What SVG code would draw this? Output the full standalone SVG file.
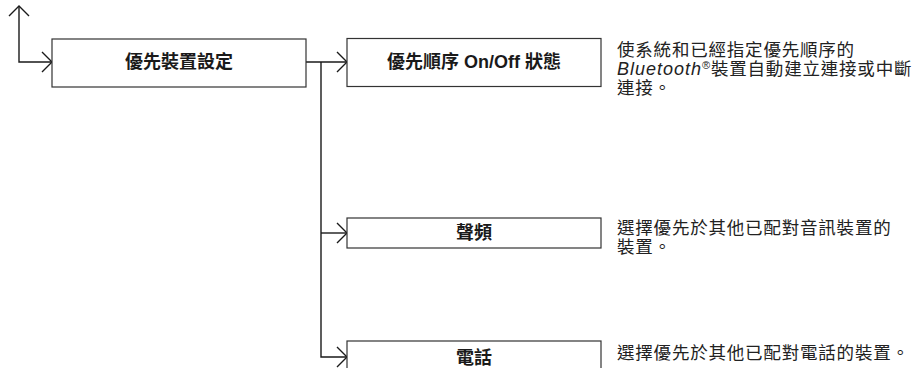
<svg xmlns="http://www.w3.org/2000/svg" width="912" height="368" viewBox="0 0 912 368">
<defs>
<style>
.box{fill:#fff;stroke:#333;stroke-width:1.2}
.lbl{font-family:"Liberation Sans","Noto Sans CJK TC",sans-serif;font-size:18px;font-weight:bold;fill:#1a1a1a;text-anchor:middle}
.desc{font-family:"Liberation Sans","Noto Sans CJK TC",sans-serif;font-size:17.5px;letter-spacing:0.8px;fill:#222}
.con{fill:none;stroke:#1a1a1a;stroke-width:1.4}
</style>
<marker id="arr" markerUnits="userSpaceOnUse" markerWidth="14" markerHeight="24" refX="11" refY="11" orient="auto-start-reverse" viewBox="0 0 14 24">
<path d="M1,1 L11,11 L1,21" fill="none" stroke="#1a1a1a" stroke-width="1.4"/>
</marker>
</defs>
<rect width="912" height="368" fill="#fff"/>
<g id="connectors">
<path class="con" d="M19,6 L19,62 L52,62" marker-start="url(#arr)" marker-end="url(#arr)"/>
<path class="con" d="M306,62 L347,62" marker-end="url(#arr)"/>
<path class="con" d="M321,62 L321,357 L347,357" marker-end="url(#arr)"/>
<path class="con" d="M321,233 L347,233" marker-end="url(#arr)"/>
</g>
<g id="node-priority-device">
<rect class="box" x="52" y="39" width="254" height="48"/>
<text class="lbl" x="179" y="68">優先裝置設定</text>
</g>
<g id="node-priority-onoff">
<rect class="box" x="347" y="38.5" width="254" height="48"/>
<text class="lbl" x="474" y="68">優先順序 On/Off 狀態</text>
</g>
<g id="node-audio">
<rect class="box" x="347" y="218" width="254" height="30"/>
<text class="lbl" x="474" y="239">聲頻</text>
</g>
<g id="node-phone">
<rect class="box" x="347" y="341" width="254" height="30"/>
<text class="lbl" x="474" y="364">電話</text>
</g>
<g id="descriptions">
<text class="desc" x="617" y="55.5">使系統和已經指定優先順序的</text>
<text class="desc" x="617" y="74.7"><tspan font-style="italic" font-size="18" letter-spacing="1">Bluetooth</tspan><tspan font-size="11" dy="-6">®</tspan><tspan dy="6">裝置自動建立連接或中斷</tspan></text>
<text class="desc" x="617" y="94">連接。</text>
<text class="desc" x="617" y="234">選擇優先於其他已配對音訊裝置的</text>
<text class="desc" x="617" y="253.2">裝置。</text>
<text class="desc" x="617" y="358.5">選擇優先於其他已配對電話的裝置。</text>
</g>
</svg>
